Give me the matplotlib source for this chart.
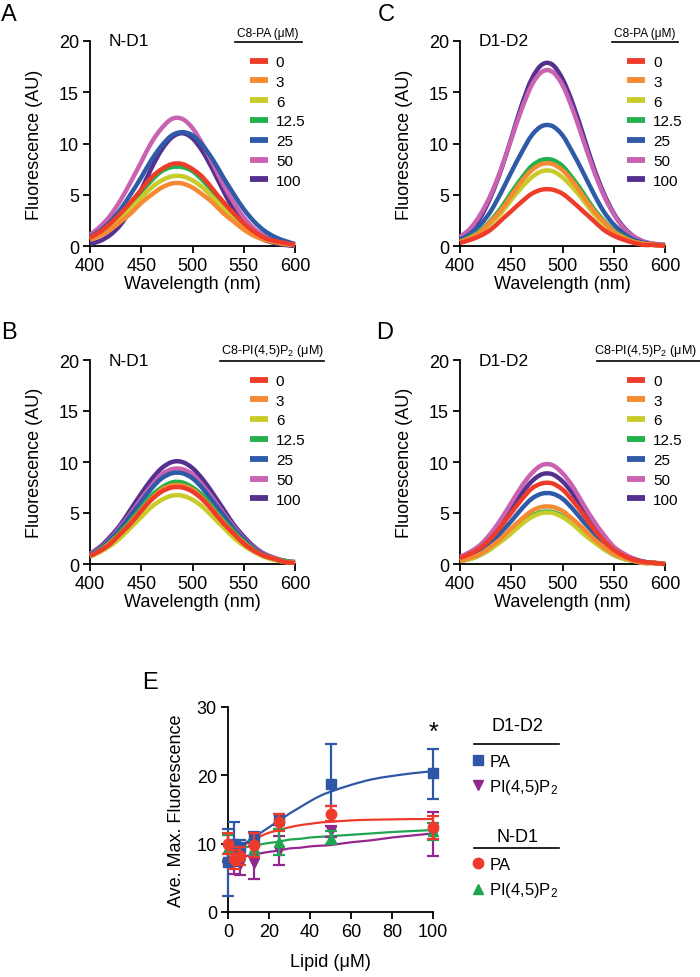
import matplotlib.pyplot as plt
from matplotlib.lines import Line2D
from matplotlib.path import Path
from matplotlib.patches import PathPatch

plt.rcParams['font.family'] = ['Liberation Sans', 'DejaVu Sans']
plt.rcParams['mathtext.fontset'] = 'custom'
plt.rcParams['mathtext.rm'] = 'Liberation Sans'
plt.rcParams['mathtext.it'] = 'Liberation Sans:italic'

# ---- spectra (A-D) ----
wavelength = [400, 410, 420, 430, 440, 450, 460, 470, 480, 490, 500,
              510, 520, 530, 540, 550, 560, 570, 580, 590, 600]
concentrations = ['0', '3', '6', '12.5', '25', '50', '100']
spectrum_colors = ['#EF3B2A', '#F58A33', '#C9CB2A', '#22B14C',
                   '#2E5AA7', '#C962B0', '#55308F']

# rows: 0, 3, 6, 12.5, 25, 50, 100 uM
nd1_pa = [
    [0.8, 1.4, 2.2, 3.2, 4.3, 5.5, 6.7, 7.5, 8.0, 8.0, 7.5, 6.7, 5.5, 4.3, 3.2, 2.2, 1.4, 0.8, 0.5, 0.3, 0.1],
    [0.6, 1.0, 1.6, 2.4, 3.2, 4.2, 5.0, 5.7, 6.1, 6.1, 5.7, 5.0, 4.2, 3.2, 2.4, 1.6, 1.0, 0.6, 0.4, 0.2, 0.1],
    [0.7, 1.2, 1.8, 2.7, 3.7, 4.7, 5.7, 6.4, 6.8, 6.8, 6.4, 5.7, 4.7, 3.7, 2.7, 1.8, 1.2, 0.7, 0.4, 0.2, 0.1],
    [0.8, 1.3, 2.1, 3.0, 4.1, 5.3, 6.4, 7.3, 7.7, 7.7, 7.3, 6.4, 5.3, 4.1, 3.0, 2.1, 1.3, 0.8, 0.5, 0.2, 0.1],
    [0.9, 1.5, 2.4, 3.6, 5.1, 6.7, 8.4, 9.8, 10.8, 11.1, 10.8, 9.8, 8.4, 6.7, 5.1, 3.6, 2.4, 1.5, 0.9, 0.5, 0.2],
    [1.1, 1.9, 3.0, 4.5, 6.3, 8.2, 10.1, 11.5, 12.4, 12.4, 11.5, 9.9, 8.0, 6.0, 4.3, 2.8, 1.7, 1.0, 0.5, 0.3, 0.1],
    [0.2, 0.5, 1.1, 2.1, 3.6, 5.5, 7.6, 9.4, 10.6, 11.0, 10.5, 9.2, 7.4, 5.4, 3.6, 2.2, 1.2, 0.6, 0.3, 0.1, 0.0],
]
d1d2_pa = [
    [0.3, 0.6, 1.0, 1.6, 2.5, 3.4, 4.3, 5.1, 5.5, 5.5, 5.1, 4.3, 3.4, 2.5, 1.6, 1.0, 0.6, 0.3, 0.1, 0.1, 0.0],
    [0.4, 0.8, 1.4, 2.4, 3.5, 4.9, 6.3, 7.4, 8.0, 8.0, 7.4, 6.3, 4.9, 3.5, 2.4, 1.4, 0.8, 0.4, 0.2, 0.1, 0.0],
    [0.4, 0.7, 1.3, 2.2, 3.2, 4.5, 5.7, 6.7, 7.3, 7.3, 6.7, 5.7, 4.5, 3.2, 2.2, 1.3, 0.7, 0.4, 0.2, 0.1, 0.0],
    [0.4, 0.9, 1.5, 2.5, 3.7, 5.2, 6.6, 7.8, 8.4, 8.4, 7.8, 6.6, 5.2, 3.7, 2.5, 1.5, 0.9, 0.4, 0.2, 0.1, 0.0],
    [0.6, 1.2, 2.1, 3.4, 5.2, 7.2, 9.1, 10.8, 11.7, 11.7, 10.8, 9.1, 7.2, 5.2, 3.4, 2.1, 1.2, 0.6, 0.3, 0.1, 0.1],
    [0.9, 1.7, 3.1, 5.0, 7.5, 10.4, 13.3, 15.7, 17.0, 17.0, 15.7, 13.3, 10.4, 7.5, 5.0, 3.1, 1.7, 0.9, 0.4, 0.2, 0.1],
    [0.7, 1.5, 2.8, 4.8, 7.4, 10.5, 13.7, 16.3, 17.7, 17.7, 16.3, 13.9, 10.9, 7.8, 5.2, 3.2, 1.8, 0.9, 0.4, 0.2, 0.1],
]
nd1_pip2 = [
    [0.8, 1.3, 2.0, 3.0, 4.0, 5.2, 6.3, 7.1, 7.5, 7.5, 7.1, 6.3, 5.2, 4.0, 3.0, 2.0, 1.3, 0.8, 0.5, 0.2, 0.1],
    [0.8, 1.3, 2.1, 3.0, 4.1, 5.3, 6.4, 7.3, 7.7, 7.7, 7.3, 6.4, 5.3, 4.1, 3.0, 2.1, 1.3, 0.8, 0.5, 0.2, 0.1],
    [0.7, 1.2, 1.8, 2.6, 3.6, 4.6, 5.6, 6.3, 6.7, 6.7, 6.3, 5.6, 4.6, 3.6, 2.6, 1.8, 1.2, 0.7, 0.4, 0.2, 0.1],
    [0.8, 1.4, 2.2, 3.2, 4.3, 5.5, 6.7, 7.5, 8.0, 8.0, 7.5, 6.7, 5.5, 4.3, 3.2, 2.2, 1.4, 0.8, 0.5, 0.3, 0.1],
    [0.9, 1.5, 2.4, 3.5, 4.8, 6.1, 7.4, 8.4, 8.9, 8.9, 8.4, 7.4, 6.1, 4.8, 3.5, 2.4, 1.5, 0.9, 0.5, 0.3, 0.1],
    [1.0, 1.6, 2.5, 3.7, 5.0, 6.4, 7.7, 8.8, 9.3, 9.3, 8.8, 7.7, 6.4, 5.0, 3.7, 2.5, 1.6, 1.0, 0.6, 0.3, 0.2],
    [1.0, 1.7, 2.7, 3.9, 5.4, 6.9, 8.3, 9.4, 10.0, 10.0, 9.4, 8.3, 6.9, 5.4, 3.9, 2.7, 1.7, 1.0, 0.6, 0.3, 0.2],
]
d1d2_pip2 = [
    [0.6, 1.0, 1.6, 2.5, 3.7, 5.0, 6.3, 7.4, 7.9, 7.9, 7.3, 6.2, 4.9, 3.5, 2.3, 1.4, 0.8, 0.4, 0.2, 0.1, 0.0],
    [0.3, 0.6, 1.0, 1.7, 2.5, 3.5, 4.4, 5.2, 5.6, 5.6, 5.2, 4.4, 3.5, 2.5, 1.7, 1.0, 0.6, 0.3, 0.1, 0.1, 0.0],
    [0.3, 0.5, 0.9, 1.5, 2.2, 3.0, 3.9, 4.6, 5.0, 5.0, 4.6, 3.9, 3.0, 2.2, 1.5, 0.9, 0.5, 0.3, 0.1, 0.1, 0.0],
    [0.3, 0.5, 0.9, 1.5, 2.3, 3.2, 4.0, 4.7, 5.1, 5.1, 4.7, 4.0, 3.2, 2.3, 1.5, 0.9, 0.5, 0.3, 0.1, 0.1, 0.0],
    [0.4, 0.7, 1.2, 2.0, 3.1, 4.2, 5.4, 6.4, 6.9, 6.9, 6.4, 5.4, 4.2, 3.1, 2.0, 1.2, 0.7, 0.4, 0.2, 0.1, 0.0],
    [0.7, 1.2, 1.9, 3.0, 4.4, 6.0, 7.6, 8.9, 9.7, 9.7, 8.9, 7.6, 5.9, 4.3, 2.9, 1.7, 1.0, 0.5, 0.2, 0.1, 0.0],
    [0.5, 0.9, 1.6, 2.6, 3.9, 5.4, 6.9, 8.1, 8.8, 8.8, 8.1, 6.9, 5.4, 3.9, 2.6, 1.6, 0.9, 0.5, 0.2, 0.1, 0.0],
]

# ---- panel E: average max fluorescence ----
lipid = [0, 3, 6, 12.5, 25, 50, 100]
d1d2_pa_mean = [7.3, 10.0, 9.5, 10.9, 13.6, 18.8, 20.3]
d1d2_pa_lo = [5.0, 3.2, 1.0, 0.8, 0.8, 3.3, 3.8]
d1d2_pa_hi = [4.8, 3.2, 1.0, 0.8, 0.8, 5.8, 3.6]
d1d2_pip2_mean = [9.3, 7.5, 7.0, 7.2, 9.0, 11.8, 11.4]
d1d2_pip2_err = [2.0, 2.0, 1.6, 2.4, 2.1, 0.8, 3.2]
nd1_pa_mean = [10.0, 7.7, 8.2, 9.8, 13.1, 14.4, 12.4]
nd1_pa_err = [1.5, 1.4, 1.3, 1.8, 1.3, 1.1, 1.7]
nd1_pip2_mean = [9.4, 8.8, 8.6, 9.4, 10.3, 10.9, 11.8]
nd1_pip2_err = [1.8, 1.2, 1.0, 1.2, 1.9, 1.0, 1.2]

fit_x = [3, 6, 9, 12.5, 16, 20, 25, 30, 35, 40, 45, 50, 60, 70, 80, 90, 100]
fit_d1d2_pa = [9.0, 9.6, 10.2, 10.9, 11.6, 12.4, 13.4, 14.4, 15.3, 16.2, 17.0, 17.6, 18.6, 19.4, 19.9, 20.3, 20.6]
fit_nd1_pa = [9.0, 9.5, 10.0, 10.6, 11.1, 11.6, 12.0, 12.4, 12.7, 12.9, 13.1, 13.2, 13.4, 13.5, 13.55, 13.6, 13.6]
fit_nd1_pip2 = [9.1, 9.3, 9.5, 9.7, 9.9, 10.1, 10.3, 10.6, 10.7, 10.9, 11.0, 11.1, 11.3, 11.5, 11.7, 11.85, 12.0]
fit_d1d2_pip2 = [7.8, 8.0, 8.2, 8.4, 8.6, 8.8, 9.0, 9.3, 9.4, 9.6, 9.7, 9.8, 10.2, 10.5, 10.9, 11.2, 11.5]

E_BLUE = '#2E58A6'
E_PURPLE = '#93278F'
E_RED = '#EE3A2D'
E_GREEN = '#1FA550'

W, H = 700, 978
fig = plt.figure(figsize=(W / 100, H / 100), dpi=100)


def px_rect(left, top, right, bottom):
    return [left / W, 1 - bottom / H, (right - left) / W, (bottom - top) / H]


def smooth_path(x, y):
    # draw a smooth curve through the points (Catmull-Rom as Bezier segments)
    n = len(x)
    verts = [(x[0], y[0])]
    codes = [Path.MOVETO]
    for i in range(n - 1):
        a, b = max(i - 1, 0), min(i + 2, n - 1)
        verts += [(x[i] + (x[i + 1] - x[a]) / 6, y[i] + (y[i + 1] - y[a]) / 6),
                  (x[i + 1] - (x[b] - x[i]) / 6, y[i + 1] - (y[b] - y[i]) / 6),
                  (x[i + 1], y[i + 1])]
        codes += [Path.CURVE4] * 3
    return Path(verts, codes)


def smooth_line(ax, x, y, color, lw, zorder):
    ax.add_patch(PathPatch(smooth_path(x, y), fill=False, edgecolor=color,
                           lw=lw, zorder=zorder, clip_on=False,
                           capstyle='butt'))
    return Line2D([], [], color=color, lw=4.2, solid_capstyle='butt')


def style_axes(ax):
    for side in ['top', 'right']:
        ax.spines[side].set_visible(False)
    for side in ['left', 'bottom']:
        ax.spines[side].set_linewidth(1.3)
    ax.tick_params(direction='out', length=5, width=1.3, labelsize=13, pad=3)


def spectrum_panel(rect, data, letter, letter_pos, construct, title, title_fs,
                   title_x, line_x, legend_x):
    ax = fig.add_axes(rect)
    style_axes(ax)
    handles = []
    for i, (row, c) in enumerate(zip(data, spectrum_colors)):
        handles.append(smooth_line(ax, wavelength, row, c, 3.2, 10 - i))
    ax.set_xlim(400, 600)
    ax.set_ylim(0, 20)
    ax.set_xticks([400, 450, 500, 550, 600])
    ax.set_yticks([0, 5, 10, 15, 20])
    ax.set_xlabel('Wavelength (nm)', fontsize=13)
    ax.set_ylabel('Fluorescence (AU)', fontsize=13)
    ax.xaxis.set_label_coords(0.5, -0.14)
    ax.yaxis.set_label_coords(-0.23, 0.5)
    ax.text(0.09, 1.0, construct, transform=ax.transAxes, fontsize=12.5,
            ha='left', va='center')
    ax.text(title_x, 1.012, title, transform=ax.transAxes, fontsize=title_fs,
            ha='center', va='bottom')
    ax.plot(line_x, [0.993, 0.993], transform=ax.transAxes, color='black',
            lw=1.2, clip_on=False)
    ax.legend(handles, concentrations, loc='upper left',
              bbox_to_anchor=(legend_x, 0.932), frameon=False, fontsize=11,
              handlelength=1.2, handletextpad=0.5, labelspacing=0.38,
              borderpad=0, borderaxespad=0)
    fig.text(letter_pos[0] / W, 1 - letter_pos[1] / H, letter, fontsize=17,
             ha='center', va='center')
    return ax


spectrum_panel(px_rect(90, 42, 295, 247), nd1_pa, 'A', (9, 15), 'N-D1',
               'C8-PA (\u03bcM)', 8.6, 0.868, [0.707, 1.034], 0.78)
spectrum_panel(px_rect(460, 42, 665, 247), d1d2_pa, 'C', (386, 15), 'D1-D2',
               'C8-PA (\u03bcM)', 8.6, 0.902, [0.741, 1.063], 0.815)
spectrum_panel(px_rect(90, 361, 295, 565), nd1_pip2, 'B', (9, 333), 'N-D1',
               'C8-PI(4,5)P$_2$ (\u03bcM)', 9.1, 0.888, [0.634, 1.141], 0.78)
spectrum_panel(px_rect(460, 361, 665, 565), d1d2_pip2, 'D', (385, 333), 'D1-D2',
               'C8-PI(4,5)P$_2$ (\u03bcM)', 9.1, 0.905, [0.668, 1.2], 0.815)

# ---- panel E ----
axE = fig.add_axes(px_rect(228, 708, 433, 913))
style_axes(axE)
eb_kw = dict(linestyle='none', elinewidth=1.6, capsize=4.3, capthick=1.6,
             clip_on=False)
smooth_line(axE, fit_x, fit_d1d2_pip2, E_PURPLE, 1.6, 2)
smooth_line(axE, fit_x, fit_nd1_pip2, E_GREEN, 1.6, 2)
smooth_line(axE, fit_x, fit_nd1_pa, E_RED, 1.6, 2)
smooth_line(axE, fit_x, fit_d1d2_pa, E_BLUE, 1.6, 2)
eb_pip2_d = axE.errorbar(lipid, d1d2_pip2_mean, yerr=d1d2_pip2_err,
                         color=E_PURPLE, marker='v', markersize=7, zorder=3, **eb_kw)
eb_pip2_n = axE.errorbar(lipid, nd1_pip2_mean, yerr=nd1_pip2_err,
                         color=E_GREEN, marker='^', markersize=7, zorder=4, **eb_kw)
eb_pa_d = axE.errorbar(lipid, d1d2_pa_mean, yerr=[d1d2_pa_lo, d1d2_pa_hi],
                       color=E_BLUE, marker='s', markersize=6.5, zorder=5, **eb_kw)
eb_pa_n = axE.errorbar(lipid, nd1_pa_mean, yerr=nd1_pa_err,
                       color=E_RED, marker='o', markersize=7.5, zorder=6, **eb_kw)
axE.set_xlim(0, 100)
axE.set_ylim(0, 30)
axE.set_xticks([0, 20, 40, 60, 80, 100])
axE.set_yticks([0, 10, 20, 30])
axE.set_xlabel('Lipid (\u03bcM)', fontsize=13)
axE.set_ylabel('Ave. Max. Fluorescence', fontsize=13)
axE.xaxis.set_label_coords(0.5, -0.2)
axE.yaxis.set_label_coords(-0.21, 0.5)
axE.text(100, 26.4, '*', ha='center', va='center', fontsize=18)
fig.text(150 / W, 1 - 683 / H, 'E', fontsize=17, ha='center', va='center')

# grouped legend on the right of E
leg_kw = dict(loc='upper left', bbox_transform=fig.transFigure, frameon=False,
              fontsize=12, handlelength=0.8, handletextpad=0.3,
              labelspacing=0.5, borderpad=0, borderaxespad=0)
leg1 = axE.legend([eb_pa_d[0], eb_pip2_d[0]], ['PA', 'PI(4,5)P$_2$'],
                  bbox_to_anchor=(471 / W, 1 - 755 / H), **leg_kw)
axE.add_artist(leg1)
axE.legend([eb_pa_n[0], eb_pip2_n[0]], ['PA', 'PI(4,5)P$_2$'],
           bbox_to_anchor=(471 / W, 1 - 858 / H), **leg_kw)
for label, ty, ly in [('D1-D2', 727, 745), ('N-D1', 838, 849)]:
    fig.text(517 / W, 1 - ty / H, label, fontsize=13, ha='center', va='center')
    fig.add_artist(Line2D([474 / W, 559 / W], [1 - ly / H, 1 - ly / H],
                          color='black', lw=1.2))

fig.savefig('out.png', dpi=100)
